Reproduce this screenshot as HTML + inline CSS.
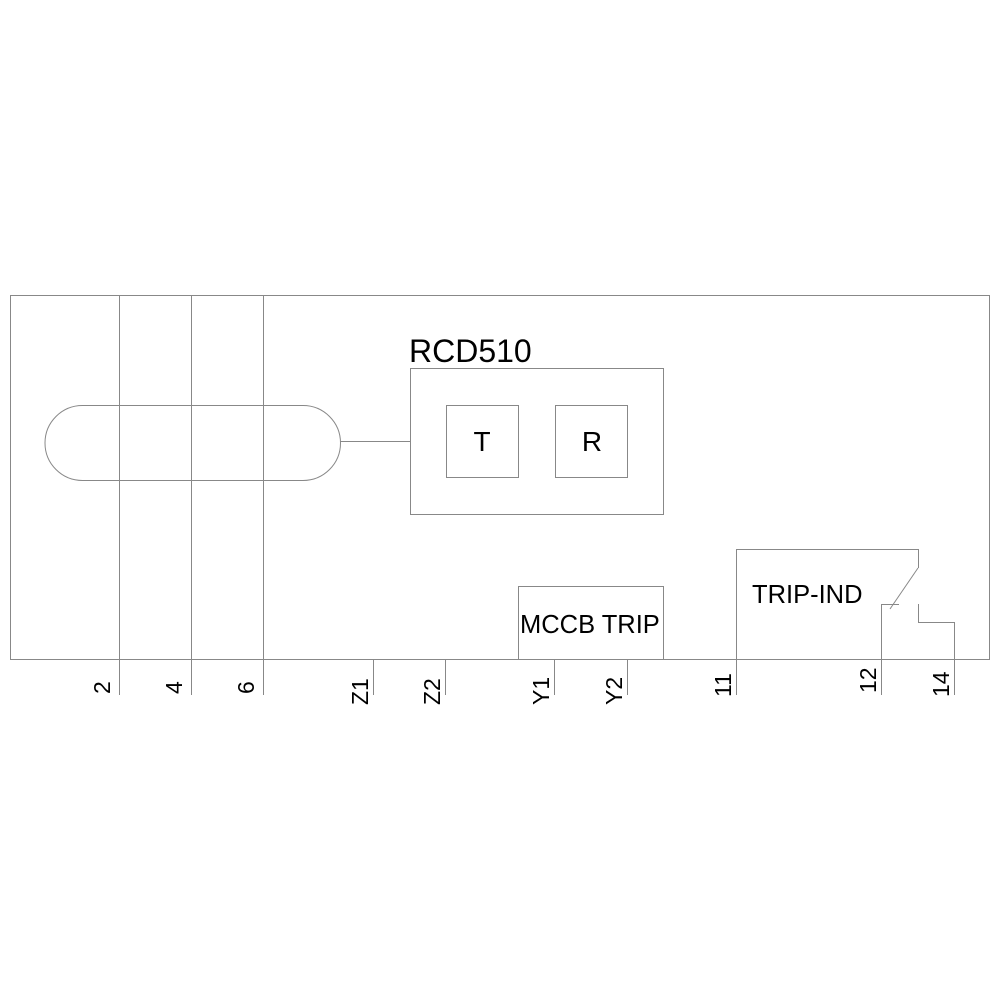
<!DOCTYPE html>
<html><head><style>body{margin:0;background:#fff}</style></head><body>
<svg width="1000" height="1000" viewBox="0 0 1000 1000" xmlns="http://www.w3.org/2000/svg" font-family="Liberation Sans, Arial, sans-serif">
<rect width="1000" height="1000" fill="#fff"/>
<g stroke="#888" stroke-width="1" fill="none">
<rect x="10.5" y="295.5" width="979" height="364"/>
<line x1="119.5" y1="295" x2="119.5" y2="695"/>
<line x1="191.5" y1="295" x2="191.5" y2="695"/>
<line x1="263.5" y1="295" x2="263.5" y2="695"/>
<path d="M82.5 405.5 H303 A37.5 37.5 0 0 1 303 480.5 H82.5 A37.5 37.5 0 0 1 82.5 405.5 Z"/>
<line x1="340" y1="441.5" x2="410" y2="441.5"/>
<rect x="410.5" y="368.5" width="253" height="146"/>
<rect x="446.5" y="405.5" width="72" height="72"/>
<rect x="555.5" y="405.5" width="72" height="72"/>
<line x1="373.5" y1="659" x2="373.5" y2="695"/>
<line x1="445.5" y1="659" x2="445.5" y2="695"/>
<rect x="518.5" y="586.5" width="145" height="73"/>
<line x1="554.5" y1="659" x2="554.5" y2="695"/>
<line x1="627.5" y1="659" x2="627.5" y2="695"/>
<path d="M736.5 695 V549.5 H918.5 V568"/>
<line x1="918" y1="568" x2="890" y2="609"/>
<path d="M899 604.5 H881.5 V695"/>
<path d="M918.5 604 V622.5 H954.5 V695"/>
</g>
<g fill="#000">
<text x="409" y="362" font-size="32">RCD510</text>
<text x="482" y="451" font-size="28" text-anchor="middle">T</text>
<text x="592" y="451" font-size="28" text-anchor="middle">R</text>
<text x="520" y="633" font-size="25.5">MCCB TRIP</text>
<text x="752" y="603" font-size="25.5">TRIP-IND</text>
<g font-size="23">
<text transform="translate(110,694) rotate(-90)">2</text>
<text transform="translate(182,694) rotate(-90)">4</text>
<text transform="translate(254,694) rotate(-90)">6</text>
<text transform="translate(368,705) rotate(-90)">Z1</text>
<text transform="translate(440,705) rotate(-90)">Z2</text>
<text transform="translate(549,705) rotate(-90)">Y1</text>
<text transform="translate(622,705) rotate(-90)">Y2</text>
<text transform="translate(731,697) rotate(-90)">11</text>
<text transform="translate(876,693) rotate(-90)">12</text>
<text transform="translate(949,697) rotate(-90)">14</text>
</g>
</g>
</svg>
</body></html>
